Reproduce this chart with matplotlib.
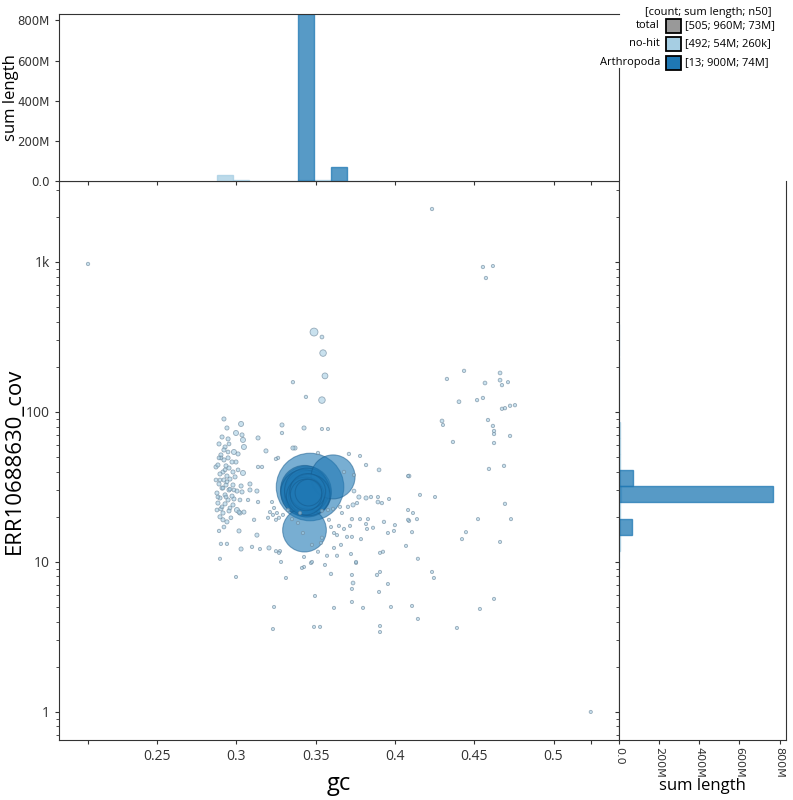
import numpy as np
import matplotlib
matplotlib.use("Agg")
import matplotlib.pyplot as plt
from matplotlib.patches import Rectangle
from matplotlib.ticker import FixedLocator, LogLocator, NullFormatter, FuncFormatter

# ---------------- data ----------------
# no-hit contigs as (gc, coverage, length in kb), grouped by region of the plot
nohit_left_cluster = [
    (0.2922, 89.8, 600), (0.3030, 83.2, 900), (0.2941, 78.2, 600), (0.2910, 68.1, 600),
    (0.2998, 72.4, 900), (0.3036, 70.3, 600), (0.2948, 66.1, 600), (0.3042, 65.1, 900),
    (0.2891, 61.2, 600), (0.2929, 58.4, 600), (0.2985, 54.1, 900), (0.3048, 58.4, 900),
    (0.3011, 52.5, 600), (0.2922, 55.8, 600), (0.2903, 51.7, 600), (0.2948, 49.4, 600),
    (0.2922, 47.9, 600), (0.2973, 46.4, 600), (0.2998, 46.4, 600), (0.2884, 44.3, 600),
    (0.2872, 43.0, 600), (0.2935, 43.7, 600), (0.2954, 42.3, 600), (0.2916, 39.8, 600),
    (0.2979, 39.8, 600), (0.3042, 39.2, 900), (0.2897, 38.6, 600), (0.2941, 37.4, 600),
    (0.2992, 36.9, 600), (0.2922, 35.2, 600), (0.2960, 35.7, 600), (0.2891, 33.1, 600),
    (0.2935, 32.6, 600), (0.2979, 32.6, 600), (0.3030, 32.1, 600), (0.2910, 31.1, 600),
    (0.2954, 30.2, 600), (0.2878, 28.8, 600), (0.3004, 29.7, 600), (0.2929, 28.0, 600),
    (0.2973, 27.5, 600), (0.3036, 29.3, 600), (0.2897, 26.7, 600), (0.2948, 25.9, 600),
    (0.2985, 26.3, 600), (0.2884, 24.7, 600), (0.2929, 24.4, 600), (0.2979, 24.0, 600),
    (0.2903, 22.6, 600), (0.2954, 21.9, 600), (0.3004, 22.2, 900), (0.2916, 21.2, 600),
    (0.2897, 20.0, 600), (0.2916, 19.1, 600), (0.3017, 21.5, 600), (0.2941, 18.5, 600),
    (0.3023, 21.2, 600), (0.2948, 54.1, 500), (0.2903, 49.4, 500), (0.2929, 41.1, 500),
    (0.2897, 35.2, 500), (0.2941, 34.2, 500), (0.2916, 31.1, 500), (0.2960, 30.6, 500),
    (0.2935, 27.1, 500), (0.2910, 23.3, 500), (0.2960, 22.9, 500), (0.2884, 27.1, 500),
    (0.2966, 19.7, 500), (0.2872, 35.2, 500), (0.2891, 49.4, 500), (0.3011, 41.1, 500),
    (0.2985, 30.2, 500), (0.3023, 25.9, 500), (0.2878, 22.2, 500), (0.2922, 17.1, 500),
    (0.2954, 61.2, 500),
]

nohit_middle = [
    (0.3086, 33.1, 600), (0.3086, 30.2, 600), (0.3130, 29.7, 600), (0.3137, 67.1, 600),
    (0.3187, 55.0, 600), (0.3137, 43.0, 400), (0.3162, 43.0, 400), (0.3074, 25.9, 400),
    (0.3137, 25.1, 400), (0.3048, 21.5, 600), (0.3288, 81.9, 600), (0.3288, 72.4, 400),
    (0.3427, 78.2, 600), (0.3357, 57.5, 600), (0.3370, 57.5, 600), (0.3263, 49.4, 400),
    (0.3250, 48.6, 400), (0.3112, 19.1, 400), (0.2891, 16.1, 400), (0.3017, 16.1, 600),
    (0.3130, 15.1, 600), (0.2903, 13.2, 400), (0.2941, 13.2, 400), (0.3030, 12.2, 600),
    (0.3099, 12.6, 400), (0.3149, 12.2, 300), (0.3206, 12.4, 600), (0.3275, 11.8, 400),
    (0.2897, 10.5, 300), (0.3414, 9.12, 300), (0.3427, 10.8, 300), (0.3477, 10.0, 300),
    (0.3225, 25.1, 300), (0.3212, 21.5, 300), (0.3231, 20.6, 300), (0.3256, 21.2, 300),
    (0.3269, 19.7, 300), (0.3250, 19.1, 300), (0.3200, 19.7, 300), (0.3238, 22.9, 300),
    (0.3294, 20.6, 300), (0.3540, 77.0, 300), (0.3578, 77.0, 300), (0.3515, 53.3, 400),
    (0.3710, 52.5, 400), (0.3780, 50.9, 300), (0.3818, 44.3, 400), (0.3900, 41.1, 500),
    (0.4083, 37.4, 300), (0.3679, 39.8, 400), (0.3742, 38.0, 300), (0.3742, 29.7, 500),
    (0.3773, 27.1, 600), (0.3818, 26.7, 600), (0.3849, 27.1, 400), (0.3893, 27.1, 300),
    (0.3963, 26.3, 300), (0.3893, 25.1, 500), (0.3761, 24.7, 400), (0.3736, 24.0, 600),
    (0.3704, 23.3, 400), (0.3654, 23.3, 300), (0.3610, 22.6, 300), (0.3578, 22.2, 300),
    (0.3540, 21.9, 300), (0.3666, 21.2, 300), (0.3729, 19.3, 400), (0.3780, 19.3, 300),
    (0.3830, 19.3, 300), (0.3818, 17.9, 300), (0.3862, 16.9, 300), (0.3931, 18.5, 400),
    (0.4000, 17.6, 300), (0.3956, 15.6, 300), (0.3717, 17.4, 300), (0.3679, 16.6, 300),
    (0.3647, 17.4, 300), (0.3584, 19.1, 300), (0.3597, 17.1, 300), (0.3616, 15.6, 300),
    (0.3635, 15.1, 300), (0.3698, 14.7, 300), (0.3729, 14.7, 300), (0.3660, 13.0, 300),
    (0.3616, 12.4, 300), (0.3540, 14.5, 300), (0.3534, 13.4, 300), (0.3477, 13.0, 300),
    (0.3515, 11.7, 300), (0.3572, 11.0, 300), (0.3635, 11.0, 300), (0.3723, 11.3, 300),
    (0.3755, 9.85, 300), (0.3786, 14.2, 300), (0.3824, 16.6, 300), (0.3906, 11.5, 300),
    (0.3925, 11.7, 300), (0.4070, 12.8, 300), (0.4083, 22.2, 300), (0.4083, 19.1, 300),
    (0.3326, 22.2, 300), (0.3351, 19.3, 300), (0.3389, 18.2, 300), (0.3402, 21.2, 300),
    (0.3420, 15.6, 300), (0.3427, 9.26, 300), (0.3559, 9.55, 300), (0.3250, 11.8, 300),
    (0.3269, 11.5, 300), (0.3282, 10.0, 300),
]

nohit_right = [
    (0.4436, 188, 400), (0.4328, 166, 400), (0.4663, 182, 500), (0.4663, 163, 500),
    (0.4713, 158, 300), (0.4568, 156, 500), (0.4675, 151, 400), (0.4404, 117, 500),
    (0.4518, 120, 400), (0.4555, 124, 400), (0.4675, 105, 400), (0.4694, 106, 400),
    (0.4726, 110, 400), (0.4757, 111, 400), (0.4297, 87.1, 500), (0.4303, 81.9, 300),
    (0.4587, 88.4, 400), (0.4618, 80.7, 400), (0.4625, 74.7, 400), (0.4625, 71.3, 400),
    (0.4726, 69.2, 400), (0.4625, 62.1, 400), (0.4366, 63.1, 400), (0.4593, 41.7, 400),
    (0.4688, 43.7, 400), (0.4089, 37.4, 500), (0.4158, 28.0, 300), (0.4253, 27.1, 300),
    (0.3918, 24.7, 400), (0.4114, 21.2, 300), (0.4089, 18.8, 400), (0.4139, 19.3, 300),
    (0.3994, 16.1, 300), (0.4108, 15.8, 300), (0.4524, 19.3, 300), (0.4694, 24.4, 400),
    (0.4732, 19.3, 300), (0.4448, 15.8, 300), (0.4423, 14.2, 300), (0.4663, 13.6, 300),
    (0.4145, 10.5, 300),
]

nohit_low = [
    (0.2998, 7.94, 300), (0.3313, 7.82, 300), (0.3471, 9.85, 400), (0.3755, 10.0, 300),
    (0.3597, 8.32, 400), (0.3729, 8.19, 300), (0.3736, 7.24, 500), (0.3729, 6.61, 300),
    (0.3496, 5.93, 300), (0.3729, 5.41, 300), (0.3887, 8.19, 400), (0.3906, 8.58, 300),
    (0.3956, 7.13, 300), (0.3900, 6.31, 300), (0.3238, 5.01, 300), (0.3616, 4.94, 300),
    (0.3799, 4.94, 300), (0.3975, 5.01, 300), (0.4108, 5.09, 300), (0.4145, 4.17, 300),
    (0.4234, 8.58, 300), (0.4246, 7.82, 300), (0.4536, 4.86, 300), (0.4625, 5.67, 300),
    (0.4391, 3.63, 300), (0.3906, 3.74, 300), (0.3906, 3.41, 300), (0.3490, 3.69, 300),
    (0.3528, 3.69, 300), (0.3231, 3.57, 300), (0.5235, 1.0, 300),
]

nohit_high = [
    (0.3490, 341, 2200), (0.3540, 316, 500), (0.3547, 247, 1500), (0.3559, 174, 1200),
    (0.3357, 158, 400), (0.3439, 126, 400), (0.3540, 120, 1500), (0.2065, 970, 400),
    (0.4234, 2256, 400), (0.4555, 926, 400), (0.4618, 940, 300), (0.4574, 782, 400),
]

# Arthropoda contigs
arthro_gc = [0.3465, 0.3440, 0.3430, 0.3450, 0.3425, 0.3445, 0.3460,
             0.3435, 0.3450, 0.3440, 0.3455, 0.3610, 0.3430]
arthro_cov = [31.6, 29.5, 30.5, 28.5, 29.0, 30.0, 28.0,
              27.5, 29.5, 28.0, 29.0, 36.9, 16.3]
arthro_len_mb = [160, 90, 80, 76, 74, 70, 60, 50, 45, 35, 25, 68, 67]

# gc histogram (sum length in Mb per gc bin, bin left edges)
gc_bin_width = 0.01025
gc_bins_nohit = [0.2878, 0.2980, 0.3083, 0.3185, 0.3288, 0.3390, 0.3493, 0.3595, 0.3698, 0.3800]
gc_sum_nohit = [30, 5, 1.5, 2, 2, 4, 5, 2, 1.5, 1]
gc_bins_arthro = [0.3390, 0.3595]
gc_sum_arthro = [832, 68]

# coverage histogram (sum length in Mb per log10(cov) bin, bin lower edges)
cov_bin_width = 0.1083
cov_bins_nohit = [0.963, 1.072, 1.180, 1.287, 1.400, 1.507, 1.613, 1.720,
                  1.828, 1.937, 2.045, 2.153, 2.260, 2.370, 2.480]
cov_sum_nohit = [2, 3, 4, 6, 8, 7, 6, 5, 3, 2, 1.5, 1.5, 1, 1, 1]
cov_bins_arthro = [1.180, 1.400, 1.507]
cov_sum_arthro = [67, 765, 68]

legend_rows = [("total", "#999999", "[505; 960M; 73M]"),
               ("no-hit", "#a6cee3", "[492; 54M; 260k]"),
               ("Arthropoda", "#1f78b4", "[13; 900M; 74M]")]

# ---------------- plot ----------------
NOHIT = "#a6cee3"
ARTH = "#1f78b4"
W, H = 793, 800
plt.rcParams["font.family"] = ["Open Sans", "DejaVu Sans"]
plt.rcParams["axes.edgecolor"] = "#333333"
plt.rcParams["xtick.color"] = "#333333"
plt.rcParams["ytick.color"] = "#333333"

fig = plt.figure(figsize=(W / 100, H / 100), dpi=100)
ax = fig.add_axes([59 / W, 60 / H, 560 / W, 559 / H])
ax_top = fig.add_axes([59 / W, 619 / H, 560 / W, 167 / H], sharex=ax)
ax_right = fig.add_axes([619 / W, 60 / H, 167 / W, 559 / H], sharey=ax)

nohit = nohit_left_cluster + nohit_middle + nohit_right + nohit_low + nohit_high
gc = np.array([p[0] for p in nohit] + arthro_gc)
cov = np.array([p[1] for p in nohit] + arthro_cov)
length = np.array([p[2] * 1e3 for p in nohit] + [m * 1e6 for m in arthro_len_mb])
is_arth = np.array([False] * len(nohit) + [True] * len(arthro_gc))

# radius in pixels grows with sqrt(length), with a floor for tiny contigs
r_px = np.maximum(1.6, 0.00267 * np.sqrt(length))
sizes = (2 * r_px * 0.72) ** 2
order = np.argsort(-length)
face = [(0.122, 0.471, 0.706, 0.6) if a else (0.651, 0.808, 0.890, 0.6) for a in is_arth]
edge = [(0.08, 0.35, 0.55, 0.5) if a else (0.42, 0.52, 0.60, 0.65) for a in is_arth]
face = [face[i] for i in order]
edge = [edge[i] for i in order]
ax.scatter(gc[order], cov[order], s=sizes[order], c=face, edgecolors=edge,
           linewidths=[0.8 if is_arth[i] else 0.6 for i in order], zorder=3)

ax.set_yscale("log")
ax.set_xlim(0.1882, 0.5413)
ax.set_ylim(0.65, 3467)
xt = [gc.min(), 0.25, 0.3, 0.35, 0.4, 0.45, 0.5, gc.max()]
ax.set_xticks(xt)
ax.set_xticklabels(["", "0.25", "0.3", "0.35", "0.4", "0.45", "0.5", ""])
ax.yaxis.set_major_locator(FixedLocator([1, 10, 100, 1000]))
ax.yaxis.set_minor_locator(FixedLocator([]))
ax.set_yticklabels(["1", "10", "100", "1k"])
ax.tick_params(labelsize=10, length=3, direction="out")
ax.set_xlabel("gc", fontsize=17, va="center")
ax.xaxis.set_label_coords(0.5, -0.078)
ax.set_ylabel("ERR10688630_cov", fontsize=16, va="center")
ax.yaxis.set_label_coords(-0.079, 0.5)

# top histogram
ax_top.bar(gc_bins_nohit, gc_sum_nohit, width=gc_bin_width, align="edge",
           color=NOHIT, alpha=0.75, edgecolor=NOHIT, linewidth=1)
ax_top.bar(gc_bins_arthro, gc_sum_arthro, width=gc_bin_width, align="edge",
           color=ARTH, alpha=0.75, edgecolor=ARTH, linewidth=1)
hmax = max(gc_sum_arthro)
ax_top.set_ylim(0, hmax)
ax_top.set_yticks([0, 200, 400, 600, 800])
mfmt = FuncFormatter(lambda v, p: "0.0" if v == 0 else f"{int(v)}M")
ax_top.yaxis.set_major_formatter(mfmt)
ax_top.tick_params(axis="x", labelbottom=False, length=3, direction="out")
ax_top.tick_params(axis="y", length=3, direction="out")
for lab in ax_top.get_yticklabels():
    lab.set_fontfamily("DejaVu Sans")
    lab.set_fontsize(8.5)
ax_top.set_ylabel("sum length", fontsize=12, va="center")
ax_top.yaxis.set_label_coords(-0.086, 0.5)
ax_top.spines["right"].set_bounds(0, hmax * 113 / 167)

# right histogram
ax_right.barh([10 ** b for b in cov_bins_nohit], cov_sum_nohit,
              height=[10 ** (b + cov_bin_width) - 10 ** b for b in cov_bins_nohit],
              align="edge", color=NOHIT, alpha=0.75, edgecolor=NOHIT, linewidth=1)
ax_right.barh([10 ** b for b in cov_bins_arthro], cov_sum_arthro,
              height=[10 ** (b + cov_bin_width) - 10 ** b for b in cov_bins_arthro],
              align="edge", color=ARTH, alpha=0.75, edgecolor=ARTH, linewidth=1)
ax_right.set_xlim(0, hmax)
ax_right.set_xticks([0, 200, 400, 600, 800])
ax_right.xaxis.set_major_formatter(mfmt)
ax_right.yaxis.set_minor_locator(LogLocator(base=10, subs=np.arange(2, 10)))
ax_right.yaxis.set_minor_formatter(NullFormatter())
ax_right.tick_params(axis="y", which="both", labelleft=False, length=3, direction="out")
ax_right.tick_params(axis="y", which="minor", length=2)
ax_right.tick_params(axis="x", length=3, direction="out", pad=2)
for lab in ax_right.get_xticklabels():
    lab.set_fontfamily("DejaVu Sans")
    lab.set_fontsize(8)
    lab.set_rotation(-90)
ax_right.set_xlabel("sum length", fontsize=12, va="center")
ax_right.xaxis.set_label_coords(0.5, -0.082)
ax_right.spines["top"].set_visible(False)

# legend drawn as a small table in the top right corner
fig.text(772 / W, 1 - 13 / H, "[count; sum length; n50]", ha="right", va="center", fontsize=8)
for i, (name, col, vals) in enumerate(legend_rows):
    yc = 1 - (25.5 + i * 18.5) / H
    fig.text(660 / W, yc, name, ha="right", va="center", fontsize=8)
    fig.patches.append(Rectangle((666 / W, yc - 7 / H), 15 / W, 14 / H, transform=fig.transFigure,
                                 facecolor=col, edgecolor="black", linewidth=1.3))
    fig.text(685 / W, yc, vals, ha="left", va="center", fontsize=8)

fig.savefig("out.png", dpi=100)
